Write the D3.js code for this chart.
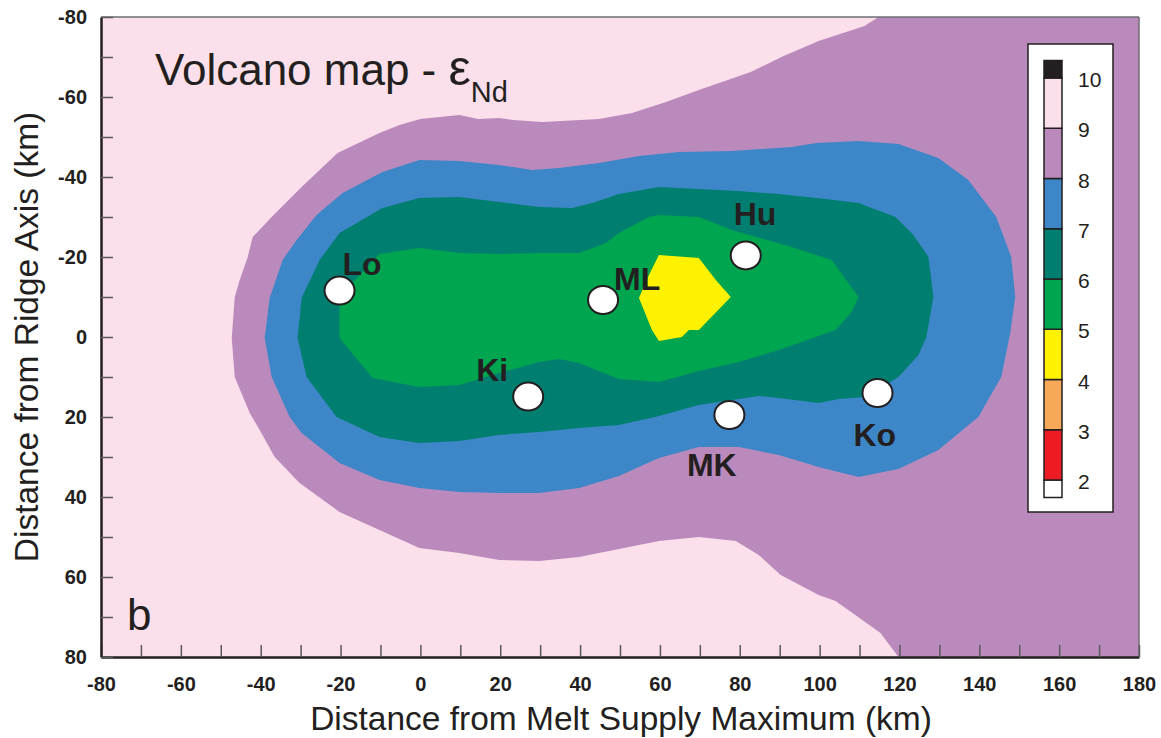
<!DOCTYPE html>
<html>
<head>
<meta charset="utf-8">
<script src="https://cdn.jsdelivr.net/npm/d3@7"></script>
<style>
  body { margin: 0; background: #fff; }
  svg { display: block; font-family: "Liberation Sans", Arial, Helvetica, sans-serif; }
</style>
</head>
<body>
<svg id="chart" width="1161" height="738"></svg>
<script>
// ---- εNd contour bands, outlines in km (x: along axis, y: across ridge) ----
// 8–9 band: open to the east, closed along the plot's right edge
const band8to9 = [
  [114.75,-80],[111.25,-77.75],[99.75,-74],[91,-70.25],[82.75,-66.25],[69.75,-61.75],
  [61.5,-58.75],[53,-56],[44.75,-54.5],[30.5,-53.75],[23.25,-54.25],[19.75,-54.75],
  [14.5,-54.5],[9.75,-55.5],[0,-54.5],[-5.25,-53],[-10.25,-51],[-20.75,-46],
  [-29.75,-37.5],[-37.25,-30],[-42,-25],[-43.25,-20],[-45.25,-14.25],[-46.5,-10],
  [-47.25,0.25],[-46.5,10],[-42.75,19],[-40.25,23.25],[-36.5,30],[-30.25,36.5],
  [-20.25,43.75],[-10.25,48.25],[-0.25,52.75],[9.75,54],[19.75,55.75],[29.75,56],
  [39.75,55],[49.75,53],[59.75,51],[69.75,50],[79,51],[84.75,54.5],[90.25,59.5],
  [99.75,64.5],[104,66],[115.25,74],[119.75,80],[180,80],[180,-80]
];
// 7–8 band
const band7to8 = [
  [-39,0.25],[-37.75,-9.75],[-34.5,-19.25],[-31,-24.25],[-26,-30.5],[-19.5,-36],
  [-9.5,-41.25],[-0.25,-44.25],[9.75,-44],[19.75,-43],[28,-41.75],[34.75,-42.25],
  [44.75,-43.5],[54.75,-45.25],[64.75,-46.25],[78,-46.5],[93,-47.5],[99.25,-48.5],
  [109.75,-49],[119.75,-48.25],[124.75,-46.5],[129.75,-44.75],[137.25,-39.25],
  [144.25,-30],[148,-20],[149,-10],[147.75,-1],[145.5,10],[139.75,20],[129.75,28.25],
  [119.75,33],[109.75,35],[99.75,32.5],[89.75,29.5],[79.75,27.5],[69.75,27.5],
  [59.75,30.25],[49.75,34.75],[39.75,37.75],[29.75,39],[19.75,39],[9.75,38.75],
  [-0.25,37.75],[-10.25,35.75],[-20.25,31.5],[-29.75,24],[-32.75,20],[-37.25,10]
];
// 6–7 band
const band6to7 = [
  [-30.75,0.25],[-29.75,-9.75],[-25.25,-19.25],[-20.25,-26],[-9.5,-32.25],[-0.25,-34.75],
  [9.75,-35],[19.75,-33.75],[29.75,-32.5],[38,-32.25],[43,-33.5],[49.75,-35.75],
  [59.75,-37.5],[69.75,-37],[79.75,-36.5],[89.75,-35.75],[101.5,-34.5],[109.75,-33.5],
  [119,-30],[123.5,-25.5],[127.25,-20],[128.5,-10],[126.75,0],[124.75,4.5],[119.75,10],
  [111.5,15],[104.75,15.5],[99.75,16.5],[89.75,15.25],[84.75,14.75],[69.75,17],
  [59.75,19.75],[49.75,22],[39.75,22.75],[29.75,23.75],[19.75,24.5],[9.75,26],
  [-0.25,26.5],[-10.25,25],[-21,20],[-28.5,10]
];
// 5–6 band
const band5to6 = [
  [-20.25,0.25],[-20.25,-10],[-14.5,-16.25],[-10.25,-20.75],[-0.25,-22.25],[9.75,-21],
  [19.75,-20.75],[29.75,-21],[39.75,-21],[46.5,-23.5],[49.75,-26],[57.25,-30],
  [59.75,-30.5],[69.75,-30],[78,-26.75],[93,-22.5],[103,-19.25],[109.75,-10],
  [108,-6.25],[104,-1.75],[94.75,1.5],[89.75,3.25],[79.75,6.25],[69.75,8.5],
  [59.75,11.25],[49.75,10.5],[39.75,6.5],[34.75,5.5],[29.75,6.25],[19.75,9],
  [9.75,12],[-0.25,12.5],[-12,10.25]
];
// 4–5 band
const band4to5 = [
  [59.75,-20.5],[69.75,-19.75],[74,-14.25],[77.75,-10],[69.75,-1.75],[67.25,-1.75],
  [65.5,0],[59.75,1],[58,-1.75],[54.75,-9.75],[57.25,-15.5]
];

// Volcano locations (km)
const volcanoNames = ["Lo", "ML", "Hu", "Ki", "MK", "Ko"];
const volcanoX = [-20.25, 45.75, 81.5, 27, 77.4, 114.5];
const volcanoY = [-11.6, -9.25, -20.4, 14.9, 19.5, 14];

// Colour key: levels and band colours (below 2 … above 10)
const keyLevels = [2, 3, 4, 5, 6, 7, 8, 9, 10];
const keyColors = ["#ffffff", "#ed1c24", "#f7a959", "#fff200", "#00a54f",
                   "#007f70", "#3d87c8", "#bb8abd", "#fbdfea", "#231f20"];

// Axis ticks
const xTicks = d3.range(-80, 181, 10);
const yTicks = d3.range(-80, 81, 10);

// ---------------------------------------------------------------------
const ink = "#231f20";
const svg = d3.select("#chart");
const x = d3.scaleLinear().domain([-80, 180]).range([101, 1139]);
const y = d3.scaleLinear().domain([-80, 80]).range([17, 657]);

svg.append("defs").append("clipPath").attr("id", "plotClip")
  .append("rect").attr("x", x(-80)).attr("y", y(-80))
  .attr("width", x(180) - x(-80)).attr("height", y(80) - y(-80));

const plot = svg.append("g").attr("clip-path", "url(#plotClip)");

// 9–10 background
plot.append("rect")
  .attr("x", x(-80)).attr("y", y(-80))
  .attr("width", x(180) - x(-80)).attr("height", y(80) - y(-80))
  .attr("fill", keyColors[8]);

const area = d3.line().x(d => x(d[0])).y(d => y(d[1]));
const bands = [
  { pts: band8to9, color: keyColors[7] },
  { pts: band7to8, color: keyColors[6] },
  { pts: band6to7, color: keyColors[5] },
  { pts: band5to6, color: keyColors[4] },
  { pts: band4to5, color: keyColors[3] }
];
plot.selectAll("path.band").data(bands).join("path")
  .attr("class", "band")
  .attr("d", d => area(d.pts) + "Z")
  .attr("fill", d => d.color);

// frame: thin top and right edges
svg.append("line").attr("x1", x(-80)).attr("x2", x(180)).attr("y1", y(-80)).attr("y2", y(-80))
  .attr("stroke", "#6d6e71").attr("stroke-width", 1.5);
svg.append("line").attr("x1", x(180)).attr("x2", x(180)).attr("y1", y(-80)).attr("y2", y(80))
  .attr("stroke", "#6d6e71").attr("stroke-width", 1.5);

// axes with inward ticks
const fmt = d => (d % 20 === 0 ? d : "");
const gx = svg.append("g").attr("transform", `translate(0,${y(80)})`)
  .call(d3.axisBottom(x).tickValues(xTicks).tickSizeInner(-12).tickSizeOuter(0)
    .tickPadding(20).tickFormat(fmt));
const gy = svg.append("g").attr("transform", `translate(${x(-80)},0)`)
  .call(d3.axisLeft(y).tickValues(yTicks).tickSizeInner(-12).tickSizeOuter(0)
    .tickPadding(14).tickFormat(fmt));
[gx, gy].forEach(g => {
  g.select(".domain").attr("stroke", ink).attr("stroke-width", 2.5);
  g.selectAll(".tick line").attr("stroke", "#58595b").attr("stroke-width", 1.5);
  g.selectAll(".tick text").attr("fill", ink).attr("font-size", 20)
    .attr("font-weight", "bold").attr("font-family", "'Liberation Sans', Arial, sans-serif");
});

// axis titles
svg.append("text")
  .attr("x", 621).attr("y", 730)
  .attr("text-anchor", "middle").attr("font-size", 33.5).attr("fill", ink)
  .text("Distance from Melt Supply Maximum (km)");
svg.append("text")
  .attr("transform", `translate(38,${y(0)}) rotate(-90)`)
  .attr("text-anchor", "middle").attr("font-size", 33.5).attr("fill", ink)
  .text("Distance from Ridge Axis (km)");

// map title
const title = svg.append("text").attr("x", 155).attr("y", 85)
  .attr("font-size", 44).attr("fill", ink);
title.append("tspan").text("Volcano map - ");
title.append("tspan").attr("font-size", 50).text("ε");
title.append("tspan").attr("font-size", 29).attr("dy", 17).text("Nd");

// panel letter
svg.append("text").attr("x", 127).attr("y", 630)
  .attr("font-size", 44).attr("fill", ink).text("b");

// volcanoes
const labelOffsets = {
  Lo: [3, -15.5], ML: [11, -10], Hu: [-12, -30.5],
  Ki: [-52, -15.5], MK: [-42.5, 61], Ko: [-24, 53]
};
const volcanoes = volcanoNames.map((n, i) => ({ name: n, vx: volcanoX[i], vy: volcanoY[i] }));
const vg = svg.append("g");
vg.selectAll("ellipse").data(volcanoes).join("ellipse")
  .attr("cx", d => x(d.vx)).attr("cy", d => y(d.vy))
  .attr("rx", 15).attr("ry", 14)
  .attr("fill", "#fff").attr("stroke", ink).attr("stroke-width", 2);
vg.selectAll("text").data(volcanoes).join("text")
  .attr("x", d => x(d.vx) + labelOffsets[d.name][0])
  .attr("y", d => y(d.vy) + labelOffsets[d.name][1])
  .attr("font-size", 32).attr("font-weight", "bold").attr("fill", ink)
  .text(d => d.name);

// colour key
const key = svg.append("g");
key.append("rect").attr("x", 1028).attr("y", 44).attr("width", 85).attr("height", 468)
  .attr("fill", "#fff").attr("stroke", ink).attr("stroke-width", 1.5);
const ky = d3.scaleLinear().domain([2, 10]).range([480, 78]);
const capH = 17.5;
const segs = keyColors.map((c, i) => {
  if (i === 0) return { y0: ky(2), y1: ky(2) + capH, c };
  if (i === keyColors.length - 1) return { y0: ky(10) - capH, y1: ky(10), c };
  return { y0: ky(keyLevels[i]), y1: ky(keyLevels[i - 1]), c };
});
key.selectAll("rect.seg").data(segs).join("rect")
  .attr("class", "seg")
  .attr("x", 1044).attr("width", 18)
  .attr("y", d => d.y0).attr("height", d => d.y1 - d.y0)
  .attr("fill", d => d.c).attr("stroke", ink).attr("stroke-width", 1.5);
key.selectAll("text").data(keyLevels).join("text")
  .attr("x", 1078).attr("y", d => ky(d) + 9)
  .attr("font-size", 21).attr("fill", ink)
  .text(d => d);
</script>
</body>
</html>
